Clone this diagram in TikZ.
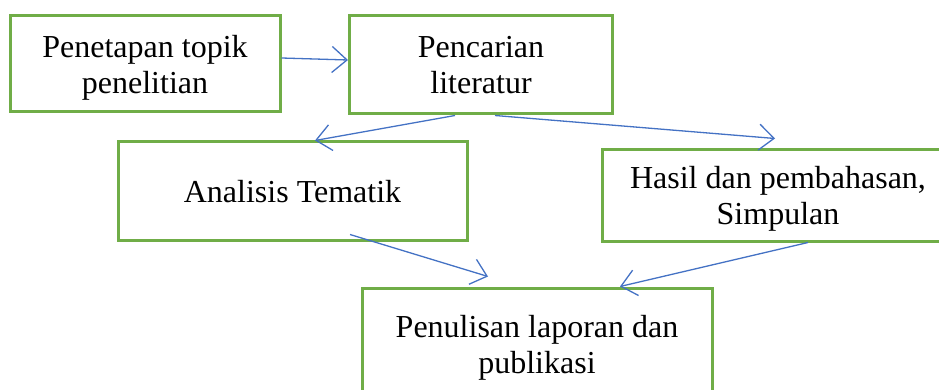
\documentclass[tikz,border=0pt]{standalone}
\usepackage{fontspec}
\setmainfont{Liberation Serif}
\usetikzlibrary{arrows.meta}
\definecolor{boxgreen}{HTML}{70AD47}
\definecolor{arrowblue}{HTML}{4472C4}

\begin{document}
\begin{tikzpicture}[x=1pt,y=-1pt,
    stepbox/.style={draw=boxgreen,line width=3pt,align=center,inner sep=0pt,text depth=0pt,
      font=\fontsize{32}{36}\selectfont},
    flow/.style={draw=arrowblue,line width=1.3pt,-{Straight Barb[length=15pt,width=26pt,line width=1.3pt]}}]
  \useasboundingbox (0,0) rectangle (939,390);
  \clip (0,0) rectangle (939,390);
    \node[stepbox,minimum width=270pt,minimum height=96pt] (topik) at (145,64) {Penetapan topik\\penelitian};
    \node[stepbox,minimum width=263pt,minimum height=98pt] (lit) at (481,65) {Pencarian\\literatur};
    \node[stepbox,minimum width=349pt,minimum height=98pt] (ana) at (292.5,191) {Analisis Tematik};
    \node[stepbox,minimum width=352pt,minimum height=91pt] (has) at (778,195.5) {Hasil dan pembahasan,\\Simpulan};
    \node[stepbox,minimum width=350pt,minimum height=112pt] (pen) at (537,344) {Penulisan laporan dan\\publikasi};
    \draw[flow] ([yshift=6pt]topik.east) -- ([yshift=5pt]lit.west);
    \draw[flow] ([xshift=-26pt]lit.south) -- ([xshift=22.5pt]ana.north);
    \draw[flow] ([xshift=14pt]lit.south) -- ([xshift=-3pt,yshift=10pt]has.north);
    \draw[flow] ([xshift=57.5pt,yshift=7pt]ana.south) -- ([xshift=-49pt,yshift=10pt]pen.north);
    \draw[flow] ([xshift=30pt]has.south) -- ([xshift=83pt]pen.north);
\end{tikzpicture}
\end{document}
